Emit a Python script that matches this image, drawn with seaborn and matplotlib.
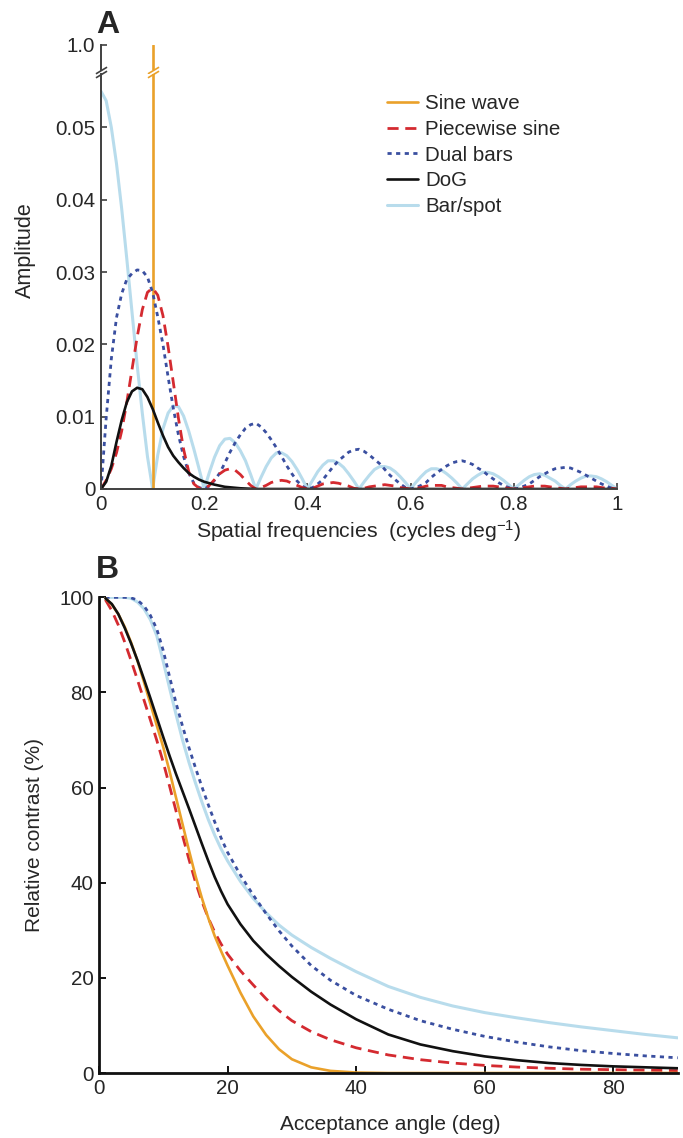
import numpy as np
import matplotlib
matplotlib.use("Agg")
import matplotlib.pyplot as plt
import seaborn as sns

# ---------- Panel A: amplitude spectra ----------
freq = np.linspace(0, 1, 101)   # cycles deg-1, sampled every 0.01

sine_freq = [0.1, 0.1]
sine_amp = [0.0, 1.0]

bar_spot_amp = [
    0.0550, 0.0537, 0.0500, 0.0450, 0.0388, 0.0318, 0.0245, 0.0172, 0.0105, 0.0045, 0.0,
    0.0047, 0.0083, 0.0105, 0.0115, 0.0114, 0.0101, 0.0080, 0.0055, 0.0028, 0.0,
    0.0023, 0.0044, 0.0060, 0.0069, 0.0070, 0.0064, 0.0053, 0.0039, 0.0020, 0.0,
    0.0016, 0.0031, 0.0043, 0.0050, 0.0050, 0.0046, 0.0038, 0.0027, 0.0014, 0.0,
    0.0012, 0.0024, 0.0033, 0.0039, 0.0039, 0.0036, 0.0030, 0.0021, 0.0011, 0.0,
    0.0010, 0.0019, 0.0027, 0.0031, 0.0031, 0.0029, 0.0024, 0.0017, 0.0009, 0.0,
    0.0009, 0.0017, 0.0024, 0.0028, 0.0028, 0.0026, 0.0021, 0.0015, 0.0008, 0.0,
    0.0007, 0.0014, 0.0019, 0.0023, 0.0023, 0.0021, 0.0017, 0.0012, 0.0006, 0.0,
    0.0006, 0.0012, 0.0017, 0.0020, 0.0021, 0.0019, 0.0015, 0.0011, 0.0005, 0.0,
    0.0006, 0.0011, 0.0015, 0.0018, 0.0018, 0.0017, 0.0014, 0.0010, 0.0005, 0.0,
]

dual_bars_amp = [
    0.0, 0.0098, 0.0180, 0.0237, 0.0270, 0.0290, 0.0298, 0.0303, 0.0302, 0.0293, 0.0272,
    0.0238, 0.0200, 0.0155, 0.0112, 0.0075, 0.0045, 0.0022, 0.0008, 0.0002, 0.0,
    0.0004, 0.0012, 0.0022, 0.0036, 0.0051, 0.0064, 0.0075, 0.0084, 0.0089, 0.0091,
    0.0086, 0.0078, 0.0068, 0.0057, 0.0045, 0.0032, 0.0021, 0.0011, 0.0004, 0.0,
    0.0002, 0.0007, 0.0013, 0.0022, 0.0031, 0.0039, 0.0045, 0.0051, 0.0054, 0.0055,
    0.0052, 0.0047, 0.0041, 0.0035, 0.0027, 0.0019, 0.0013, 0.0007, 0.0002, 0.0,
    0.0002, 0.0005, 0.0009, 0.0016, 0.0022, 0.0027, 0.0032, 0.0036, 0.0038, 0.0039,
    0.0037, 0.0034, 0.0029, 0.0025, 0.0019, 0.0014, 0.0009, 0.0005, 0.0002, 0.0,
    0.0001, 0.0004, 0.0007, 0.0012, 0.0017, 0.0021, 0.0025, 0.0028, 0.0029, 0.0030,
    0.0029, 0.0026, 0.0023, 0.0019, 0.0015, 0.0011, 0.0007, 0.0004, 0.0001, 0.0,
]

piecewise_amp = [
    0.0, 0.0012, 0.0028, 0.0050, 0.0080, 0.0120, 0.0165, 0.0210, 0.0248, 0.0272, 0.0278,
    0.0268, 0.0240, 0.0197, 0.0148, 0.0098, 0.0055, 0.0024, 0.0007, 0.0001, 0.0,
    0.0005, 0.0013, 0.0021, 0.0026, 0.0028, 0.0026, 0.0020, 0.0012, 0.0005, 0.0,
    0.0002, 0.0005, 0.0009, 0.0011, 0.0012, 0.0011, 0.0008, 0.0005, 0.0002, 0.0,
    0.0001, 0.0004, 0.0007, 0.0008, 0.0009, 0.0008, 0.0006, 0.0004, 0.0001, 0.0,
    0.0001, 0.0003, 0.0004, 0.0005, 0.0006, 0.0005, 0.0004, 0.0002, 0.0001, 0.0,
    0.0001, 0.0002, 0.0004, 0.0005, 0.0005, 0.0005, 0.0003, 0.0002, 0.0001, 0.0,
    0.0001, 0.0002, 0.0003, 0.0004, 0.0004, 0.0004, 0.0003, 0.0002, 0.0001, 0.0,
    0.0001, 0.0002, 0.0003, 0.0004, 0.0004, 0.0004, 0.0003, 0.0002, 0.0001, 0.0,
    0.0001, 0.0002, 0.0003, 0.0003, 0.0003, 0.0003, 0.0002, 0.0001, 0.0001, 0.0,
]

dog_freq = [0.0, 0.01, 0.02, 0.03, 0.04, 0.05, 0.06, 0.07, 0.08, 0.09, 0.10,
            0.11, 0.12, 0.13, 0.14, 0.15, 0.16, 0.17, 0.18, 0.19, 0.20,
            0.22, 0.24, 0.27, 0.30, 0.40, 1.0]
dog_amp = [0.0, 0.0010, 0.0032, 0.0065, 0.0095, 0.0120, 0.0135, 0.0140, 0.0138, 0.0127, 0.0111,
           0.0092, 0.0074, 0.0058, 0.0046, 0.0037, 0.0029, 0.0022, 0.0017, 0.0013, 0.0010,
           0.0006, 0.0003, 0.0001, 0.0, 0.0, 0.0]

# ---------- Panel B: relative contrast vs acceptance angle ----------
angle = [1, 2, 3, 4, 5, 6, 7, 8, 9, 10, 11, 12, 13, 14, 15, 16, 17, 18, 19, 20,
         22, 24, 26, 28, 30, 33, 36, 40, 45, 50, 55, 60, 65, 70, 75, 80, 85, 90]

sine_contrast = [99.8, 98.5, 96.5, 93.8, 90.5, 86.6, 82.2, 77.6, 73.0, 68.5,
                 63.3, 57.8, 52.3, 46.8, 41.5, 36.8, 32.6, 28.8, 25.6, 22.6,
                 16.9, 11.9, 8.0, 5.0, 2.9, 1.2, 0.45, 0.1, 0.0, 0.0,
                 0.0, 0.0, 0.0, 0.0, 0.0, 0.0, 0.0, 0.0]
piecewise_contrast = [99.5, 97.2, 94.2, 90.6, 86.7, 82.6, 78.4, 74.2, 69.9, 65.3,
                      60.2, 55.0, 49.9, 44.9, 40.2, 36.1, 32.6, 29.6, 27.1, 25.0,
                      21.5, 18.5, 15.6, 13.1, 11.0, 8.7, 7.0, 5.3, 3.8, 2.8,
                      2.1, 1.6, 1.25, 1.0, 0.8, 0.7, 0.6, 0.5]
dual_bars_contrast = [100.0, 100.0, 100.0, 100.0, 99.9, 99.4, 98.2, 96.2, 93.3, 88.8,
                      83.2, 77.7, 72.9, 68.4, 64.2, 60.2, 56.4, 52.8, 49.4, 46.4,
                      41.6, 37.4, 33.5, 29.9, 26.7, 22.6, 19.5, 16.3, 13.4, 11.0,
                      9.2, 7.7, 6.5, 5.5, 4.7, 4.1, 3.6, 3.2]
dog_contrast = [99.8, 98.6, 96.5, 93.6, 90.3, 86.7, 82.8, 78.8, 74.7, 70.6,
                66.6, 62.8, 59.2, 55.6, 51.9, 48.2, 44.6, 41.2, 38.2, 35.5,
                31.3, 27.8, 25.0, 22.5, 20.2, 17.1, 14.4, 11.3, 8.1, 6.0,
                4.6, 3.5, 2.7, 2.1, 1.7, 1.4, 1.2, 1.0]
bar_spot_contrast = [100.0, 100.0, 100.0, 100.0, 99.8, 99.0, 97.6, 95.3, 91.9, 86.5,
                     80.8, 75.3, 70.0, 65.3, 61.0, 57.0, 53.3, 50.0, 47.1, 44.6,
                     40.3, 36.7, 33.7, 31.1, 29.0, 26.4, 24.1, 21.3, 18.2, 15.9,
                     14.1, 12.7, 11.6, 10.6, 9.7, 8.9, 8.1, 7.4]

ORANGE = "#EAA12A"
RED = "#D42A30"
BLUE = "#3A4FA0"
LIGHT = "#B8DCEC"
BLACK = "#111111"

sns.set_style("ticks")
plt.rcParams["font.family"] = ["Liberation Sans", "DejaVu Sans"]
plt.rcParams["mathtext.fontset"] = "custom"
plt.rcParams["mathtext.rm"] = "Liberation Sans"
plt.rcParams["mathtext.it"] = "Liberation Sans:italic"
plt.rcParams["mathtext.bf"] = "Liberation Sans:bold"

fig = plt.figure(figsize=(6.83, 11.38), dpi=100)
ax_top = fig.add_axes([0.1479, 0.9385, 0.7555, 0.0220])
ax_a = fig.add_axes([0.1479, 0.5703, 0.7555, 0.3647])
ax_b = fig.add_axes([0.1449, 0.0571, 0.8473, 0.4180])

# panel A curves
sns.lineplot(x=freq, y=bar_spot_amp, ax=ax_a, color=LIGHT, lw=2.2,
             estimator=None, label="Bar/spot")
sns.lineplot(x=sine_freq, y=sine_amp, ax=ax_a, color=ORANGE, lw=1.9,
             estimator=None, sort=False, label="Sine wave")
sns.lineplot(x=freq, y=dual_bars_amp, ax=ax_a, color=BLUE, lw=2.0,
             linestyle=(0, (1.5, 1.6)), estimator=None, label="Dual bars")
sns.lineplot(x=freq, y=piecewise_amp, ax=ax_a, color=RED, lw=2.0,
             linestyle=(0, (4, 2.4)), estimator=None, label="Piecewise sine")
sns.lineplot(x=dog_freq, y=dog_amp, ax=ax_a, color=BLACK, lw=1.9,
             estimator=None, label="DoG")

# part of the sine spike above the axis break
sns.lineplot(x=sine_freq, y=sine_amp, ax=ax_top, color=ORANGE, lw=1.9,
             estimator=None, sort=False, legend=False)

SPINE_A = "#404040"
ax_a.set_xlim(0, 1)
ax_a.set_ylim(0, 0.0574)
ax_a.set_xticks([0, 0.2, 0.4, 0.6, 0.8, 1.0])
ax_a.set_xticklabels(["0", "0.2", "0.4", "0.6", "0.8", "1"])
ax_a.set_yticks([0, 0.01, 0.02, 0.03, 0.04, 0.05])
ax_a.set_yticklabels(["0", "0.01", "0.02", "0.03", "0.04", "0.05"])
ax_a.set_xlabel("")
ax_a.set_ylabel("")
for s in ["top", "right"]:
    ax_a.spines[s].set_visible(False)
for s in ["left", "bottom"]:
    ax_a.spines[s].set_color(SPINE_A)
    ax_a.spines[s].set_linewidth(1.4)
ax_a.tick_params(direction="in", length=4, width=1.2, color=SPINE_A,
                 labelsize=14.8, pad=4)

ax_top.set_xlim(0, 1)
ax_top.set_ylim(0.9, 1.0)
ax_top.set_xticks([])
ax_top.set_yticks([1.0])
ax_top.set_yticklabels(["1.0"])
ax_top.set_xlabel("")
ax_top.set_ylabel("")
for s in ["top", "right", "bottom"]:
    ax_top.spines[s].set_visible(False)
ax_top.spines["left"].set_color(SPINE_A)
ax_top.spines["left"].set_linewidth(1.4)
ax_top.tick_params(direction="in", length=4, width=1.2, color=SPINE_A,
                   labelsize=14.8, pad=4)

# axis-break slashes
brk = [(-1, -0.6), (1, 0.6)]
ax_a.plot([0], [1], transform=ax_a.transAxes, marker=brk, markersize=8,
          mew=1.2, color=SPINE_A, linestyle="none", clip_on=False)
ax_top.plot([0], [0], transform=ax_top.transAxes, marker=brk, markersize=8,
            mew=1.2, color=SPINE_A, linestyle="none", clip_on=False)
ax_a.plot([0.1], [1], transform=ax_a.get_xaxis_transform(), marker=brk,
          markersize=8, mew=1.2, color=ORANGE, linestyle="none", clip_on=False)
ax_top.plot([0.1], [0], transform=ax_top.get_xaxis_transform(), marker=brk,
            markersize=8, mew=1.2, color=ORANGE, linestyle="none", clip_on=False)

handles, labels = ax_a.get_legend_handles_labels()
hmap = dict(zip(labels, handles))
order = ["Sine wave", "Piecewise sine", "Dual bars", "DoG", "Bar/spot"]
ax_a.legend([hmap[k] for k in order], order, loc="upper left",
            bbox_to_anchor=(387 / 683, 1 - 94 / 1138),
            bbox_transform=fig.transFigure, frameon=False, fontsize=14.8,
            handlelength=1.5, handletextpad=0.35, labelspacing=0.33,
            borderpad=0, borderaxespad=0)

# panel B curves
sns.lineplot(x=angle, y=bar_spot_contrast, ax=ax_b, color=LIGHT, lw=2.2,
             estimator=None, legend=False)
sns.lineplot(x=angle, y=dual_bars_contrast, ax=ax_b, color=BLUE, lw=2.0,
             linestyle=(0, (1.5, 1.6)), estimator=None, legend=False)
sns.lineplot(x=angle, y=piecewise_contrast, ax=ax_b, color=RED, lw=2.0,
             linestyle=(0, (4, 2.4)), estimator=None, legend=False)
sns.lineplot(x=angle, y=sine_contrast, ax=ax_b, color=ORANGE, lw=1.9,
             estimator=None, legend=False)
sns.lineplot(x=angle, y=dog_contrast, ax=ax_b, color=BLACK, lw=1.9,
             estimator=None, legend=False)

ax_b.set_xlim(0, 90)
ax_b.set_ylim(0, 100)
ax_b.set_xticks([0, 20, 40, 60, 80])
ax_b.set_yticks([0, 20, 40, 60, 80, 100])
ax_b.set_xlabel("")
ax_b.set_ylabel("")
for s in ["top", "right"]:
    ax_b.spines[s].set_visible(False)
for s in ["left", "bottom"]:
    ax_b.spines[s].set_color(BLACK)
    ax_b.spines[s].set_linewidth(2.0)
ax_b.tick_params(direction="in", length=5, width=1.4, color=BLACK,
                 labelsize=14.8, pad=4)

# labels
fig.text(25 / 683, 1 - 250 / 1138, "Amplitude", rotation=90,
         ha="center", va="center", fontsize=15.5)
fig.text(359 / 683, 1 - 531 / 1138,
         r"Spatial frequencies  (cycles deg$^{\mathregular{-1}}$)",
         ha="center", va="center", fontsize=15.3)
fig.text(35 / 683, 1 - 835 / 1138, "Relative contrast (%)", rotation=90,
         ha="center", va="center", fontsize=15)
fig.text(390 / 683, 1 - 1125 / 1138, "Acceptance angle (deg)",
         ha="center", va="center", fontsize=15)
fig.text(96 / 683, 1 - 33 / 1138, "A", fontsize=23, fontweight="bold",
         ha="left", va="baseline")
fig.text(96 / 683, 1 - 578 / 1138, "B", fontsize=23, fontweight="bold",
         ha="left", va="baseline")

fig.savefig("out.png", dpi=100)
